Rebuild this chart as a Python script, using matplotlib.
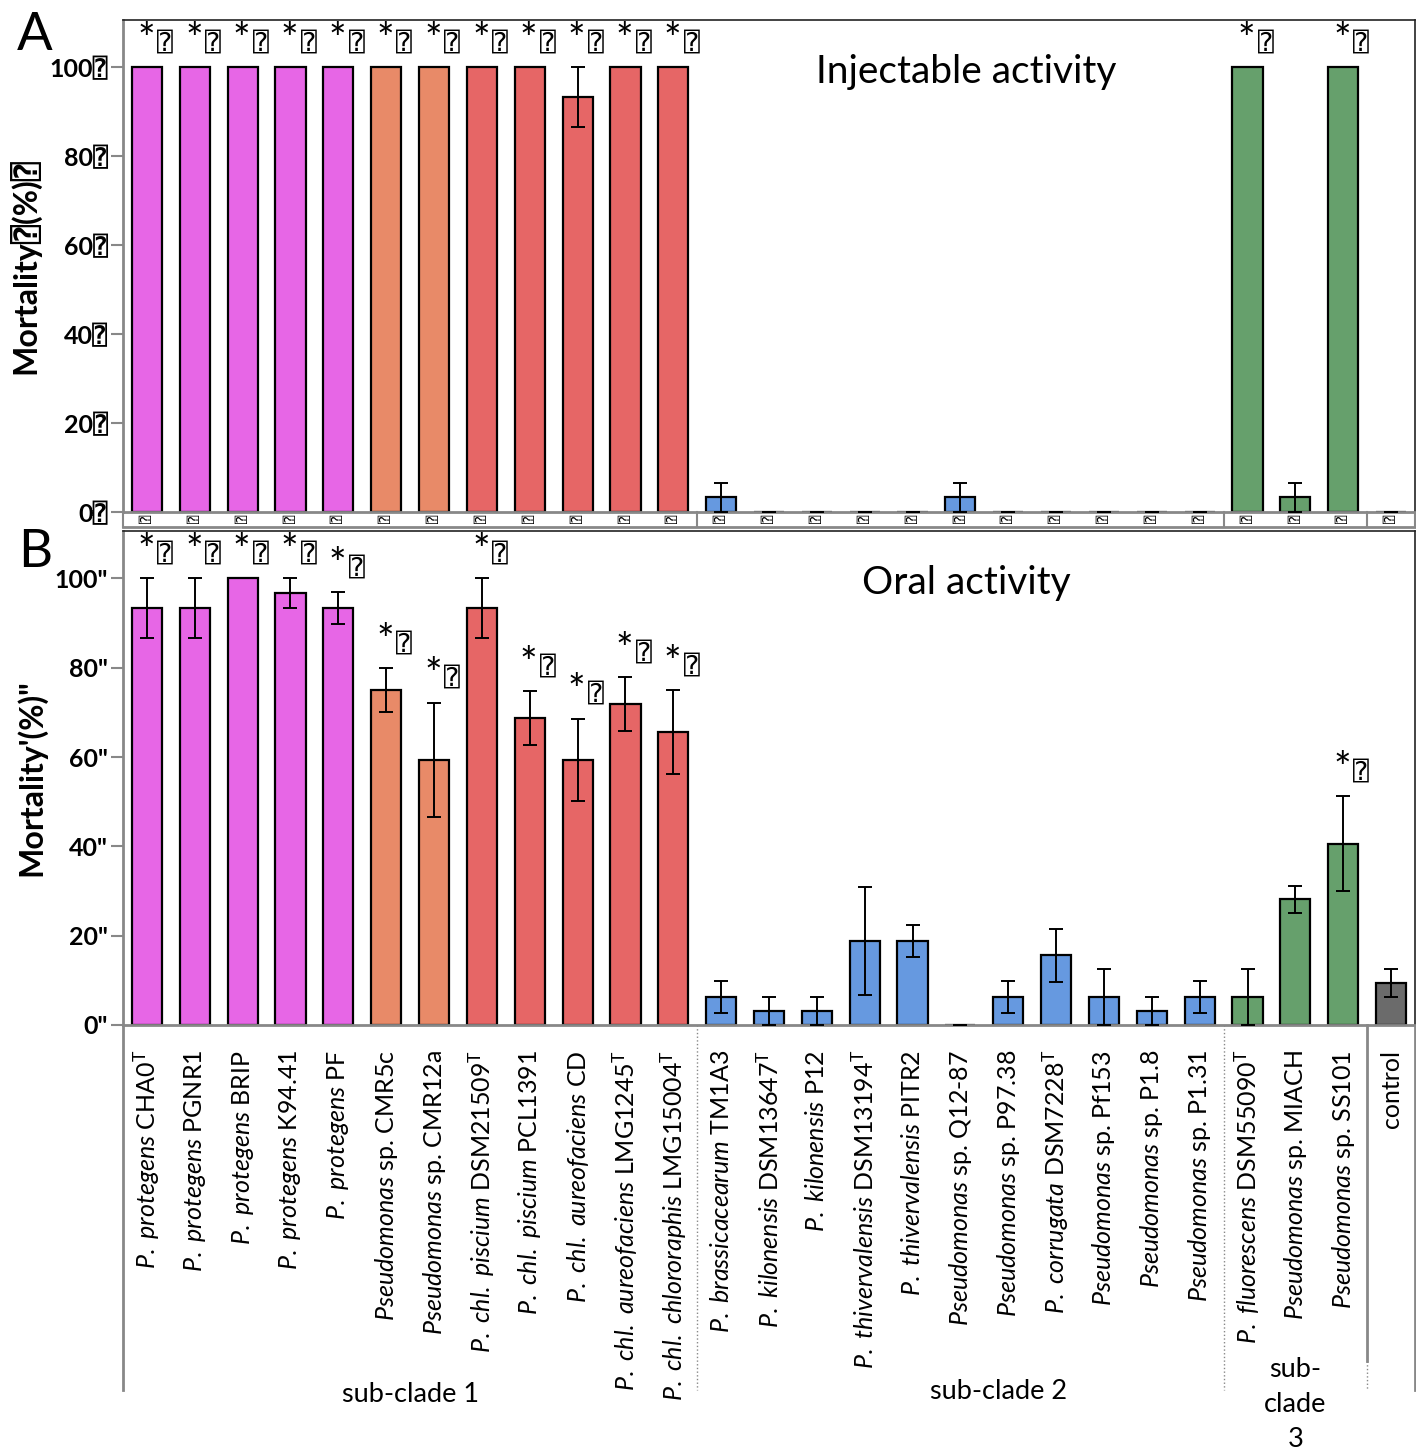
import matplotlib
matplotlib.use('Agg')
import matplotlib.pyplot as plt
import numpy as np
from matplotlib.transforms import blended_transform_factory

plt.rcParams.update({
    'font.family': ['Lato', 'DejaVu Sans', 'DejaVu Sans Mono'],
    'mathtext.fontset': 'custom',
    'mathtext.rm': 'Lato',
    'mathtext.it': 'Lato:italic',
    'mathtext.bf': 'Lato:bold',
})

TOFU = '\u2370'

# ---- data ----
species = ['P. protegens', 'P. protegens', 'P. protegens', 'P. protegens', 'P. protegens',
           'Pseudomonas', 'Pseudomonas', 'P. chl. piscium', 'P. chl. piscium',
           'P. chl. aureofaciens', 'P. chl. aureofaciens', 'P. chl. chlororaphis',
           'P. brassicacearum', 'P. kilonensis', 'P. kilonensis', 'P. thivervalensis',
           'P. thivervalensis', 'Pseudomonas', 'Pseudomonas', 'P. corrugata',
           'Pseudomonas', 'Pseudomonas', 'Pseudomonas', 'P. fluorescens',
           'Pseudomonas', 'Pseudomonas', '']
strains = ['CHA0', 'PGNR1', 'BRIP', 'K94.41', 'PF', 'sp. CMR5c', 'sp. CMR12a',
           'DSM21509', 'PCL1391', 'CD', 'LMG1245', 'LMG15004', 'TM1A3', 'DSM13647',
           'P12', 'DSM13194', 'PITR2', 'sp. Q12-87', 'sp. P97.38', 'DSM7228',
           'sp. Pf153', 'sp. P1.8', 'sp. P1.31', 'DSM55090', 'sp. MIACH', 'sp. SS101',
           'control']
type_strain = [1, 0, 0, 0, 0, 0, 0, 1, 0, 0, 1, 1, 0, 1, 0, 1, 0, 0, 0, 1,
               0, 0, 0, 1, 0, 0, 0]
groups = ['P'] * 5 + ['O'] * 2 + ['R'] * 5 + ['B'] * 11 + ['G'] * 3 + ['K']

inj_mean = [100, 100, 100, 100, 100, 100, 100, 100, 100, 93.3, 100, 100,
            3.3, 0, 0, 0, 0, 3.3, 0, 0, 0, 0, 0, 100, 3.3, 100, 0]
inj_err = [0, 0, 0, 0, 0, 0, 0, 0, 0, 6.7, 0, 0,
           3.3, 0, 0, 0, 0, 3.3, 0, 0, 0, 0, 0, 0, 3.3, 0, 0]
inj_sig = [1] * 12 + [0] * 11 + [1, 0, 1, 0]

oral_mean = [93.3, 93.3, 100, 96.7, 93.3, 75, 59.4, 93.3, 68.8, 59.4, 71.9, 65.6,
             6.3, 3.1, 3.1, 18.8, 18.8, 0, 6.3, 15.6, 6.3, 3.1, 6.3, 6.3, 28.1, 40.6, 9.4]
oral_err = [6.7, 6.7, 0, 3.3, 3.6, 5.0, 12.8, 6.7, 6.0, 9.2, 6.0, 9.4,
            3.6, 3.1, 3.1, 12.0, 3.6, 0, 3.6, 6.0, 6.3, 3.1, 3.6, 6.3, 3.1, 10.7, 3.1]
oral_sig = [1] * 12 + [0] * 13 + [1, 0]

group_names = ['sub-clade 1', 'sub-clade 2', 'sub-\nclade\n3']
palette = {'P': '#E766E6', 'O': '#E88A68', 'R': '#E66666', 'B': '#6699E0',
           'G': '#66A06C', 'K': '#6B6B6B'}

labels = []
for sp, st, t in zip(species, strains, type_strain):
    sup = r'$^{\mathrm{T}}$' if t else ''
    if sp:
        it = sp.replace(' ', r'\ ')
        labels.append(r'$\mathit{' + it + '}$ ' + st + sup)
    else:
        labels.append(st)

x = np.arange(len(strains))
colors = [palette[g] for g in groups]
sep_pos = [11.5, 22.5, 25.5]

fig = plt.figure(figsize=(14.16, 14.54), dpi=100)
W, H = 1416, 1454
axA = fig.add_axes([123 / W, 1 - 512 / H, 1292 / W, 492 / H])
axB = fig.add_axes([123 / W, 1 - 1025 / H, 1292 / W, 494 / H])


def draw(ax, mean, err, sig, ticklab):
    ax.bar(x, mean, width=0.63, color=colors, edgecolor='black', linewidth=1.6, zorder=2)
    ax.errorbar(x, mean, yerr=err, fmt='none', ecolor='black', elinewidth=1.4,
                capsize=5, capthick=1.4, zorder=3)
    ax.set_xlim(-0.5, 26.5)
    ax.set_ylim(0, 110.6)
    ax.set_yticks([0, 20, 40, 60, 80, 100])
    ax.set_yticklabels([f'{v}{ticklab}' for v in [0, 20, 40, 60, 80, 100]],
                       fontsize=18, fontweight='bold')
    ax.tick_params(axis='y', direction='out', length=9, width=1.5, color='#888888', pad=2)
    for s in ['top', 'right']:
        ax.spines[s].set_color('#222222')
        ax.spines[s].set_linewidth(1.2)
    ax.spines['left'].set_color('#888888')
    ax.spines['left'].set_linewidth(2)
    ax.spines['bottom'].set_color('#888888')
    ax.spines['bottom'].set_linewidth(2)
    for xi, m, e, s in zip(x, mean, err, sig):
        if s:
            top = m + e
            ax.text(xi - 0.02, top + 1.6, '*', ha='center', va='bottom',
                    fontsize=30, clip_on=False)
            ax.text(xi + 0.38, top + 2.6, TOFU, ha='center', va='bottom',
                    fontsize=19, clip_on=False)


# Panel A
draw(axA, inj_mean, inj_err, inj_sig, TOFU)
axA.set_xticks(x)
axA.set_xticklabels([TOFU] * len(x), rotation=90, fontsize=10)
axA.tick_params(axis='x', length=0, pad=2)
axA.set_ylabel('Mortality' + TOFU + '(%)' + TOFU, fontsize=23, fontweight='bold', labelpad=6)
axA.text(0.653, 0.894, 'Injectable activity', transform=axA.transAxes,
         ha='center', va='center', fontsize=28)
trA = blended_transform_factory(axA.transData, axA.transAxes)
strip = -0.031
axA.plot([-0.5, 26.5], [strip, strip], color='#888888', lw=2, transform=trA, clip_on=False)
for sp in [-0.5] + sep_pos + [26.5]:
    axA.plot([sp, sp], [0, strip], color='#888888', lw=1.5, transform=trA, clip_on=False)

# Panel B
draw(axB, oral_mean, oral_err, oral_sig, '"')
axB.set_xticks(x)
axB.set_xticklabels(labels, rotation=90, fontsize=18, va='top')
axB.tick_params(axis='x', length=0, pad=18)
axB.set_ylabel("Mortality'(%)\"", fontsize=23, fontweight='bold', labelpad=6)
axB.text(0.653, 0.895, 'Oral activity', transform=axB.transAxes,
         ha='center', va='center', fontsize=28)
trB = blended_transform_factory(axB.transData, axB.transAxes)
low = -0.739
axB.plot([-0.5, -0.5], [0, low], color='#888888', lw=2, transform=trB, clip_on=False)
axB.plot([26.5, 26.5], [0, low], color='#888888', lw=2, transform=trB, clip_on=False)
axB.plot([11.5, 11.5], [0, low], color='#888888', lw=1, ls=':', transform=trB, clip_on=False)
axB.plot([22.5, 22.5], [0, low], color='#888888', lw=1, ls=':', transform=trB, clip_on=False)
axB.plot([25.5, 25.5], [0, -0.68], color='#888888', lw=2, transform=trB, clip_on=False)
axB.plot([25.5, 25.5], [-0.68, low], color='#888888', lw=1, ls=':', transform=trB, clip_on=False)

axB.text(5.5, -0.748, group_names[0], transform=trB, ha='center', va='center', fontsize=19.5)
axB.text(17.8, -0.742, group_names[1], transform=trB, ha='center', va='center', fontsize=19.5)
axB.text(24.0, -0.769, group_names[2], transform=trB, ha='center', va='center', fontsize=19.5,
         linespacing=1.5)

fig.text(35 / W, 1 - 35 / H, 'A', fontsize=38, ha='center', va='center')
fig.text(35 / W, 1 - 553 / H, 'B', fontsize=38, ha='center', va='center')

fig.savefig('out.png', dpi=100)
